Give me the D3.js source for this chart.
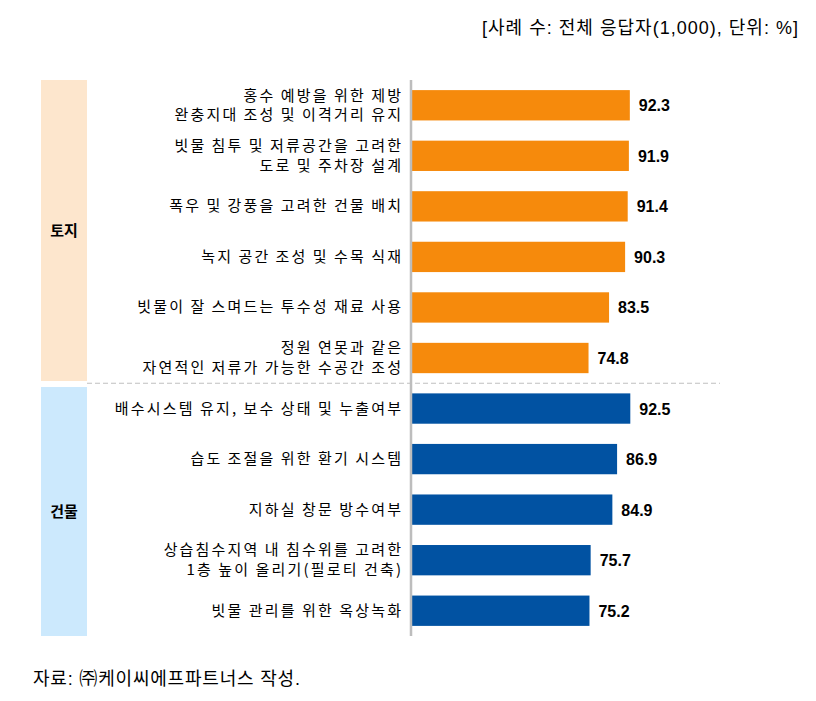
<!DOCTYPE html>
<html>
<head>
<meta charset="utf-8">
<script src="https://cdn.jsdelivr.net/npm/d3@7/dist/d3.min.js"></script>
<style>
  html, body { margin: 0; padding: 0; background: #fff; }
  svg { display: block; }
</style>
</head>
<body>
<svg id="chart" width="816" height="701"></svg>
<script>
// ---- data ----
const labels = [
  "홍수 예방을 위한 제방\n완충지대 조성 및 이격거리 유지",
  "빗물 침투 및 저류공간을 고려한\n도로 및 주차장 설계",
  "폭우 및 강풍을 고려한 건물 배치",
  "녹지 공간 조성 및 수목 식재",
  "빗물이 잘 스며드는 투수성 재료 사용",
  "정원 연못과 같은\n자연적인 저류가 가능한 수공간 조성",
  "배수시스템 유지, 보수 상태 및 누출여부",
  "습도 조절을 위한 환기 시스템",
  "지하실 창문 방수여부",
  "상습침수지역 내 침수위를 고려한\n1층 높이 올리기(필로티 건축)",
  "빗물 관리를 위한 옥상녹화"
];
const values = [92.3, 91.9, 91.4, 90.3, 83.5, 74.8, 92.5, 86.9, 84.9, 75.7, 75.2];
const groupOf = ["토지","토지","토지","토지","토지","토지","건물","건물","건물","건물","건물"];
const groups = ["토지", "건물"];
const headerText = "[사례 수: 전체 응답자(1,000), 단위: %]";
const footerText = "자료: ㈜케이씨에프파트너스 작성.";

// ---- styles ----
const barColor = { "토지": "#f68a0c", "건물": "#0152a2" };
const boxColor = { "토지": "#fde6cd", "건물": "#cce9fd" };
const krFont = "'Noto Sans CJK KR', sans-serif";
const mixFont = "'Liberation Sans', 'Noto Sans CJK KR', sans-serif";

const svg = d3.select("#chart");

// measure font metrics so Hangul advance = 16px and space = ~5.2px
const labFS = 15;
const probe = svg.append("text").attr("font-family", krFont).attr("font-size", labFS).text("가나다라마바사아자차");
const hangulAdv = probe.node().getComputedTextLength() / 10;
probe.text("가 가");
const spaceAdv = probe.node().getComputedTextLength() - 2 * hangulAdv;
probe.remove();
const letterSp = 16 - hangulAdv;
const wordSp = 5.2 - (spaceAdv + letterSp);

const idx = d3.range(values.length);
const y = d3.scaleBand().domain(idx).range([80, 636]).paddingInner(0.4).paddingOuter(0.2);
const x = d3.scaleLinear().domain([0, 100]).range([412, 648]);

// category boxes
const boxX0 = 41, boxX1 = 87;
const boxes = [
  { g: "토지", y0: 80, y1: 381 },
  { g: "건물", y0: 387, y1: 636 }
];
svg.selectAll("rect.box").data(boxes).join("rect")
  .attr("class", "box")
  .attr("x", boxX0).attr("y", d => d.y0)
  .attr("width", boxX1 - boxX0).attr("height", d => d.y1 - d.y0)
  .attr("fill", d => boxColor[d.g]);
svg.selectAll("text.box").data(boxes).join("text")
  .attr("class", "box")
  .attr("x", (boxX0 + boxX1) / 2).attr("y", d => (d.y0 + d.y1) / 2 + 5)
  .attr("text-anchor", "middle")
  .attr("font-family", krFont).attr("font-weight", "bold").attr("font-size", 15)
  .attr("fill", "#000")
  .text(d => d.g);

// divider dashed line
const splitIdx = groupOf.indexOf("건물");
const divY = (y(splitIdx - 1) + y.bandwidth() + y(splitIdx)) / 2;
svg.append("line")
  .attr("x1", 87).attr("x2", 720).attr("y1", divY).attr("y2", divY)
  .attr("stroke", "#c0c0c0").attr("stroke-width", 1.2).attr("stroke-dasharray", "5,3");

// bars
svg.selectAll("rect.bar").data(idx).join("rect")
  .attr("class", "bar")
  .attr("x", x(0)).attr("y", i => y(i))
  .attr("width", i => x(values[i]) - x(0)).attr("height", y.bandwidth())
  .attr("fill", i => barColor[groupOf[i]]);

// axis line (y axis, no ticks)
const yAxis = d3.axisLeft(y).tickSize(0).tickFormat("");
svg.append("g").attr("transform", `translate(${x(0) - 1},0)`).call(yAxis)
  .call(g => g.select(".domain").attr("stroke", "#bdbdbd").attr("stroke-width", 2.5)
    .attr("d", `M0,80V636`));

// value labels
svg.selectAll("text.val").data(idx).join("text")
  .attr("class", "val")
  .attr("x", i => x(values[i]) + 9)
  .attr("y", i => y(i) + y.bandwidth() / 2 + 6)
  .attr("font-family", "'Liberation Sans', Arial, sans-serif")
  .attr("font-weight", "bold").attr("font-size", 16)
  .attr("fill", "#000")
  .text(i => values[i].toFixed(1));

// category labels
const lineH = 19.5;
svg.selectAll("text.lab").data(idx).join("text")
  .attr("class", "lab")
  .attr("text-anchor", "end")
  .attr("font-family", krFont).attr("font-size", labFS)
  .attr("letter-spacing", letterSp)
  .attr("word-spacing", wordSp)
  .attr("fill", "#000")
  .each(function(i) {
    const lines = labels[i].split("\n");
    const cy = y(i) + y.bandwidth() / 2;
    const t = d3.select(this);
    lines.forEach((ln, k) => {
      t.append("tspan")
        .attr("x", 401 + letterSp)
        .attr("y", cy + 5 + (k - (lines.length - 1) / 2) * lineH)
        .text(ln);
    });
  });

// header
svg.append("text")
  .attr("x", 798).attr("y", 34)
  .attr("text-anchor", "end")
  .attr("font-family", mixFont).attr("font-size", 18)
  .attr("textLength", 316).attr("lengthAdjust", "spacing")
  .attr("fill", "#000")
  .text(headerText);

// footer
svg.append("text")
  .attr("x", 33).attr("y", 685)
  .attr("font-family", mixFont).attr("font-size", 18)
  .attr("textLength", 267).attr("lengthAdjust", "spacing")
  .attr("fill", "#000")
  .text(footerText);
</script>
</body>
</html>
